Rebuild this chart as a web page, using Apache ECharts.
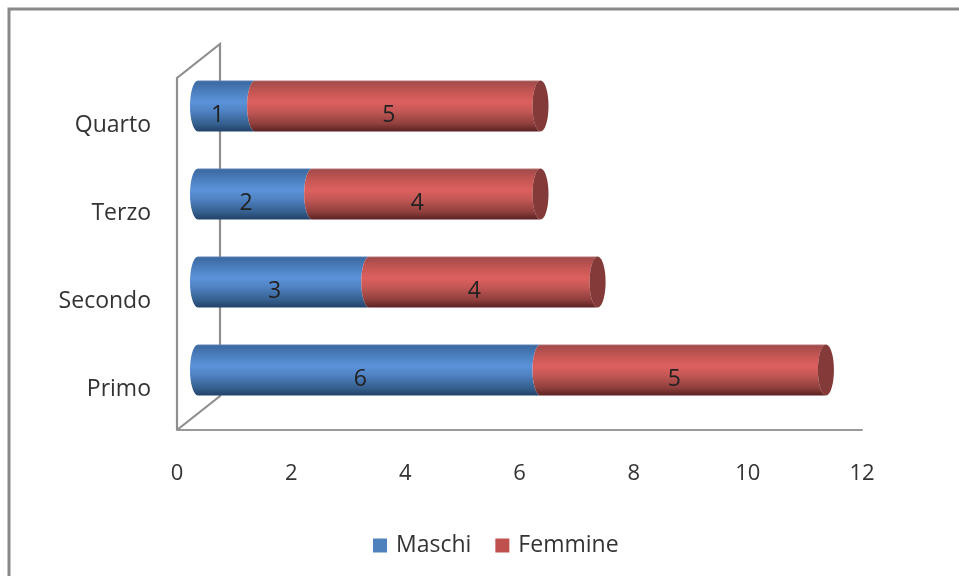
<!DOCTYPE html>
<html><head><meta charset="utf-8">
<style>html,body{margin:0;padding:0;background:#fff}#c{width:959px;height:576px}</style>
<script src="https://cdn.jsdelivr.net/npm/echarts@6/dist/echarts.min.js"></script>
</head><body><div id="c"></div>
<script>
const categories = ['Primo','Secondo','Terzo','Quarto'];
const maschi = [6,3,2,1];
const femmine = [5,4,4,5];
const xTicks = {min:0,max:12,interval:2};
const FONT = '"Open Sans", sans-serif';
const DX = 21, DY = -16, RX = 8, RY = 25.5;
const chart = echarts.init(document.getElementById('c'),null,{renderer:'canvas'});
function grad(c){return new echarts.graphic.LinearGradient(0,0,0,1,c.map((v,i)=>({offset:v[0],color:v[1]})));}
const blue = [[0,'#5f86b6'],[0.03,'#3d6aa1'],[0.2,'#4a7dbb'],[0.42,'#5b93da'],[0.6,'#4f82c2'],[0.85,'#35608f'],[1,'#22426a']];
const red  = [[0,'#b27a78'],[0.03,'#a34b49'],[0.2,'#c25553'],[0.42,'#dd605d'],[0.6,'#c45856'],[0.85,'#8f3f3d'],[1,'#5b2321']];
function cyl(colors,withCap){
  return function(params,api){
    const start=api.value(2), end=api.value(0), cat=api.value(1);
    const a=api.coord([start,cat]), b=api.coord([end,cat]);
    const x0=a[0]+DX, x1=b[0]+DX, cy=a[1]+DY;
    const t=cy-RY, bt=cy+RY;
    const d=`M${x0} ${t} A${RX} ${RY} 0 0 0 ${x0} ${bt} L${x1} ${bt} A${RX} ${RY} 0 0 1 ${x1} ${t} Z`;
    const lx=(a[0]+b[0])/2+12, ly=a[1]-7;
    const children=[{type:'path',shape:{pathData:d},style:{fill:grad(colors)}}];
    if(withCap) children.push({type:'ellipse',shape:{cx:x1,cy:cy,rx:RX,ry:RY},style:{fill:'#843a38'}});
    children.push({type:'text',x:lx,y:ly,style:{text:String(end-start),font:'23px '+FONT,fill:'#222',align:'center',verticalAlign:'middle'}});
    return {type:'group',children};
  };
}
const wall = {
  type:'custom',coordinateSystem:'cartesian2d',silent:true,z:1,data:[[0,0]],clip:false,legendHoverLink:false,
  renderItem(params){
    const g=params.coordSys, L=g.x, T=g.y, B=g.y+g.height, W=43, H=34;
    const st={stroke:'#8f8f8f',lineWidth:2.2,fill:null};
    return {type:'group',children:[
      {type:'polyline',shape:{points:[[L,B],[L,T],[L+W,T-H],[L+W,B-H],[L,B]]},style:st}
    ]};
  }
};
function seg(name,vals,starts,colors,cap,z,color){
  return {name,type:'custom',coordinateSystem:'cartesian2d',z,clip:false,
    itemStyle:{color},
    encode:{x:0,y:1},
    data:vals.map((v,i)=>[starts[i]+v,i,starts[i]]),
    renderItem:cyl(colors,cap)};
}
chart.setOption({
  animation:false,
  backgroundColor:'#fff',
  grid:{left:177,top:78,width:685,height:352,containLabel:false},
  xAxis:{type:'value',min:xTicks.min,max:xTicks.max,interval:xTicks.interval,
    axisLine:{show:true,onZero:false,lineStyle:{color:'#9a9a9a',width:2}},axisTick:{show:false},splitLine:{show:false},
    axisLabel:{margin:33,fontFamily:FONT,fontSize:22,color:'#333'}},
  yAxis:{type:'category',data:categories,
    axisLine:{show:false},axisTick:{show:false},
    axisLabel:{margin:26,fontFamily:FONT,fontSize:23,color:'#333',verticalAlign:'top',lineHeight:6}},
  legend:{left:368,top:529,icon:'rect',itemWidth:14,itemHeight:14,itemGap:24,
    data:['Maschi','Femmine'],textStyle:{fontFamily:FONT,fontSize:23,color:'#333',padding:[0,0,0,4]}},
  graphic:[{type:'polyline',silent:true,shape:{points:[[9,576],[9,9],[959,9]]},style:{stroke:'#8a8a8a',lineWidth:3,fill:null}}],
  series:[wall,
    seg('Maschi',maschi,maschi.map(()=>0),blue,false,2,'#4f81bd'),
    seg('Femmine',femmine,maschi,red,true,3,'#c0504d')]
});
</script></body></html>
